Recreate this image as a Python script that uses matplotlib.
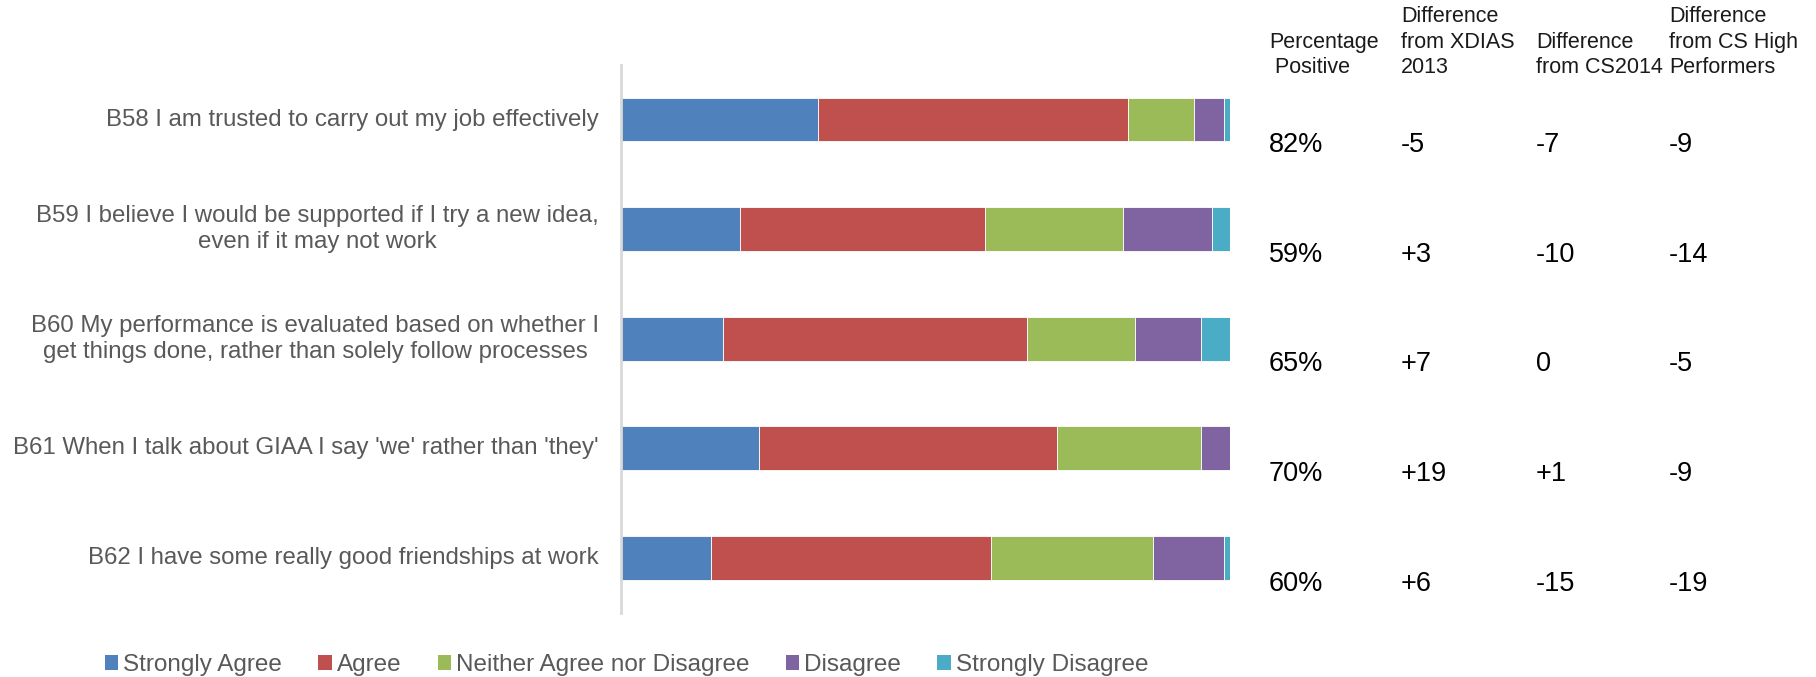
import matplotlib
matplotlib.use("Agg")
import matplotlib.pyplot as plt
from matplotlib.patches import Patch
import matplotlib.transforms as mtransforms

plt.rcParams['font.family'] = ['Liberation Sans', 'DejaVu Sans']

questions = [
    "B58 I am trusted to carry out my job effectively",
    "B59 I believe I would be supported if I try a new idea,\neven if it may not work",
    "B60 My performance is evaluated based on whether I\nget things done, rather than solely follow processes",
    "B61 When I talk about GIAA I say 'we' rather than 'they'",
    "B62 I have some really good friendships at work",
]
strongly_agree = [32.3, 19.6, 16.7, 22.6, 14.7]
agree = [51.0, 40.2, 50.0, 49.0, 46.1]
neither = [10.8, 22.6, 17.7, 23.6, 26.5]
disagree = [5.0, 14.7, 10.8, 4.8, 11.8]
strongly_disagree = [0.9, 2.9, 4.8, 0.0, 0.9]

pct_positive = [82, 59, 65, 70, 60]
diff_xdias = [-5, 3, 7, 19, 6]
diff_cs2014 = [-7, -10, 0, 1, -15]
diff_high = [-9, -14, -5, -9, -19]

series_names = ["Strongly Agree", "Agree", "Neither Agree nor Disagree", "Disagree", "Strongly Disagree"]
colors = ["#4F81BD", "#C0504D", "#9BBB59", "#8064A2", "#4BACC6"]

fig = plt.figure(figsize=(18.16, 6.77), dpi=100)
ax = fig.add_axes([0.342, 0.095, 0.3353, 0.8094])

ypos = list(range(len(questions)))
left = [0.0] * len(questions)
for vals, c in zip([strongly_agree, agree, neither, disagree, strongly_disagree], colors):
    ax.barh(ypos, vals, left=left, height=0.4, color=c, edgecolor='white', linewidth=0.6)
    left = [l + v for l, v in zip(left, vals)]

ax.set_xlim(0, 100)
ax.set_ylim(4.5, -0.5)
for s in ['top', 'right', 'bottom']:
    ax.spines[s].set_visible(False)
ax.spines['left'].set_color('#D9D9D9')
ax.spines['left'].set_linewidth(2)
ax.set_xticks([])
ax.set_yticks([])

# question labels to the left of the bars
trans = mtransforms.blended_transform_factory(fig.transFigure, ax.transData)
for y, q in zip(ypos, questions):
    fig.text(599 / 1816, y, q, transform=trans, ha='right', va='center',
             multialignment='center', fontsize=17.3, color='#595959', linespacing=1.22)

# table columns on the right
col_x = [1269 / 1816, 1401 / 1816, 1536 / 1816, 1669 / 1816]
headers = ["Percentage\n Positive", "Difference\nfrom XDIAS\n2013",
           "Difference\nfrom CS2014", "Difference\nfrom CS High\nPerformers"]
for x, h in zip(col_x, headers):
    fig.text(x, 1 - 78 / 677, h, ha='left', va='bottom', fontsize=15.5,
             color='#1a1a1a', linespacing=1.27)


def fmt(v):
    return '0' if v == 0 else f'{v:+d}'


for i in ypos:
    row = [f'{pct_positive[i]}%', fmt(diff_xdias[i]), fmt(diff_cs2014[i]), fmt(diff_high[i])]
    for x, t in zip(col_x, row):
        fig.text(x, i + 0.235, t, transform=trans, ha='left', va='center',
                 fontsize=19.5, color='black')

handles = [Patch(facecolor=c, edgecolor='none') for c in colors]
fig.legend(handles, series_names, loc='center', bbox_to_anchor=(0.345, 0.018),
           ncol=5, frameon=False, fontsize=17.5, handlelength=0.55, handleheight=0.55,
           handletextpad=0.2, columnspacing=1.5, labelcolor='#595959')

fig.savefig("out.png", dpi=100)
